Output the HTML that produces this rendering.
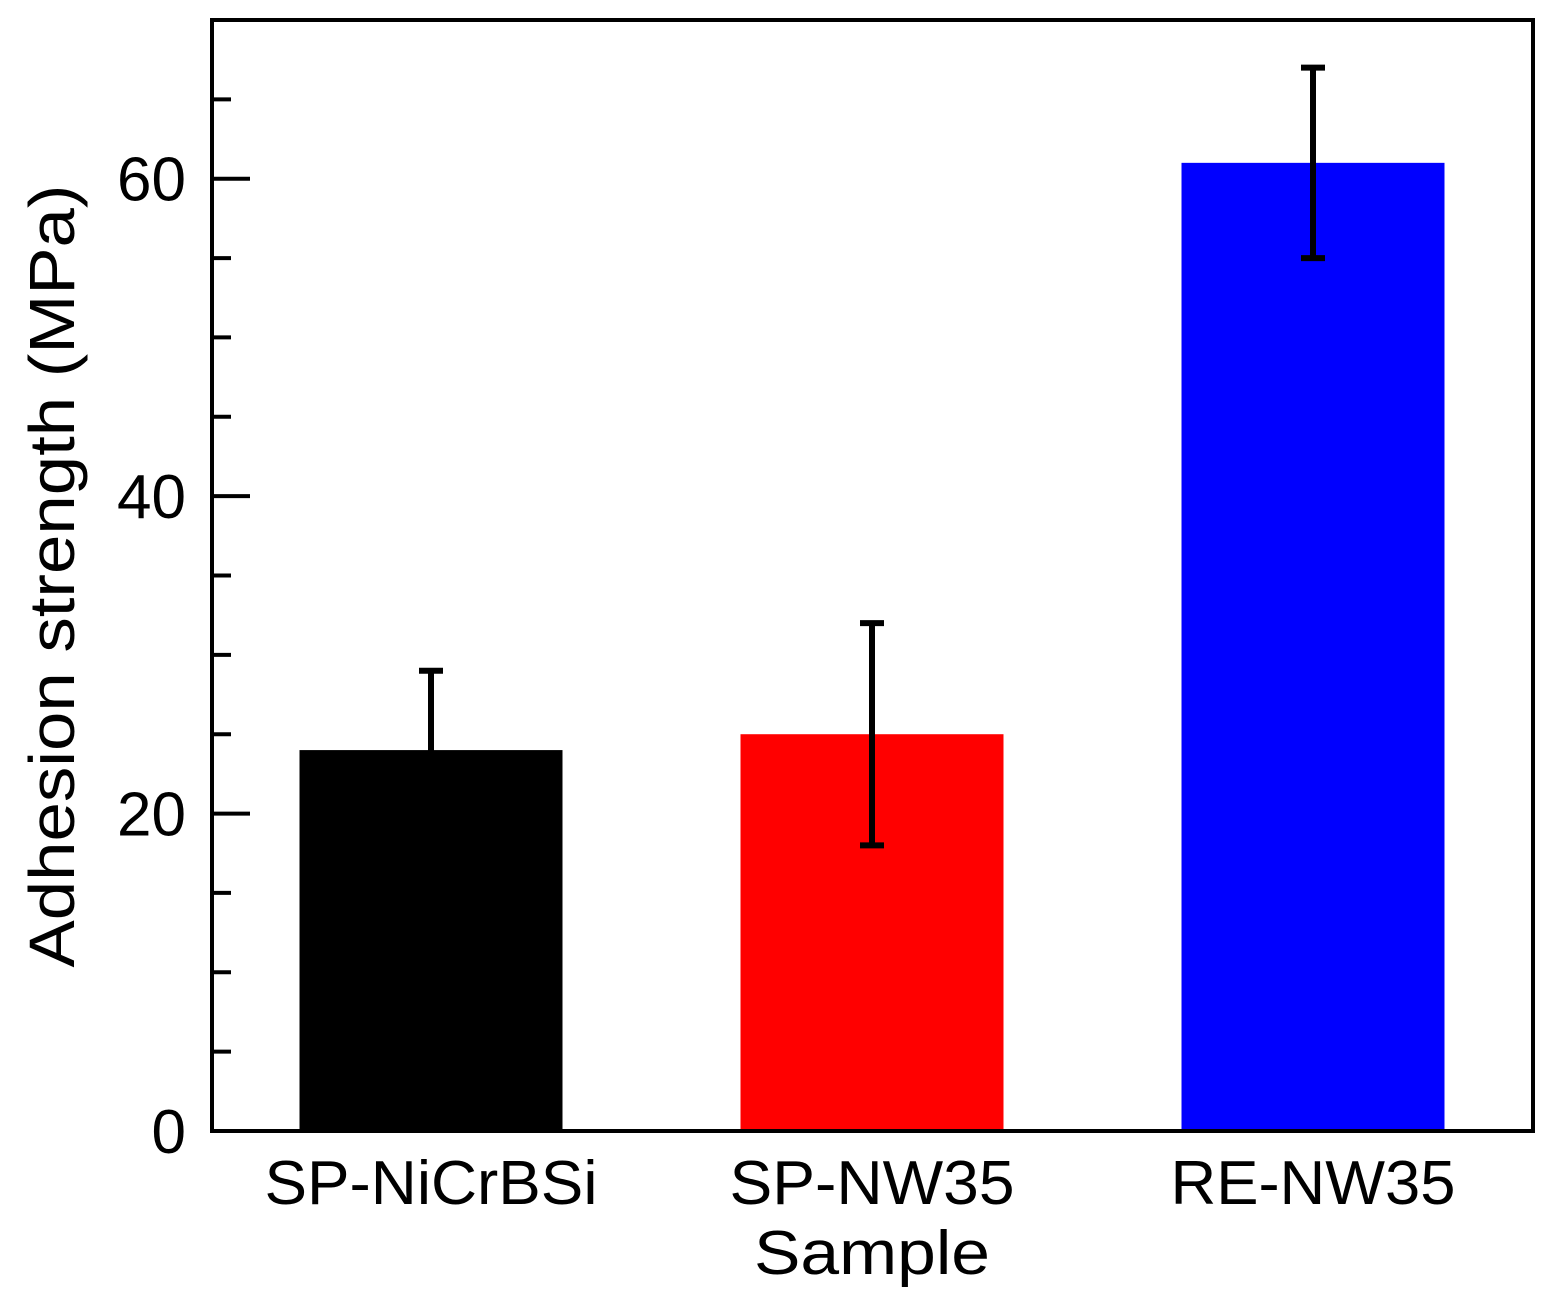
<!DOCTYPE html>
<html><head><meta charset="utf-8"><style>
html,body{margin:0;padding:0;background:#fff;}
svg{display:block;font-family:"Liberation Sans",Arial,sans-serif;}
</style></head><body>
<svg id="chart" width="1551" height="1296" viewBox="0 0 1551 1296">
<rect width="1551" height="1296" fill="#fff"/>
<g id="bars"></g>
<g id="ticks"></g>
<rect x="212" y="20" width="1321" height="1111" fill="none" stroke="#000" stroke-width="4"/>
<text x="872" y="1274" font-size="62" text-anchor="middle" textLength="236" lengthAdjust="spacingAndGlyphs">Sample</text>
<text transform="translate(74,576) rotate(-90)" font-size="64" text-anchor="middle" textLength="783" lengthAdjust="spacingAndGlyphs">Adhesion strength (MPa)</text>
</svg>
<script>
const categories = ["SP-NiCrBSi","SP-NW35","RE-NW35"];
const values = [24, 25, 61];
const errors = [5, 7, 6];
const colors = ["#000000","#ff0000","#0000ff"];
const yTicks = [0, 20, 40, 60];
const yMinor = [5, 10, 15, 25, 30, 35, 45, 50, 55, 65];
const labelWidths = [333, 285, 285];
const NS = "http://www.w3.org/2000/svg";
const x0 = 212, x1 = 1533, yBot = 1131, yTop = 20, yMax = 70;
const y = v => yBot - (yBot - yTop) * v / yMax;
const centers = [431, 872, 1313];
const xc = i => centers[0] + i * (centers[2]-centers[0])/(categories.length-1);
const bw = 263;
const bars = document.getElementById("bars");
const ticks = document.getElementById("ticks");
function mk(tag, attrs, parent){ const e=document.createElementNS(NS,tag); for(const k in attrs) e.setAttribute(k,attrs[k]); parent.appendChild(e); return e; }
categories.forEach((c,i)=>{
  const cx = xc(i);
  const r = mk("rect",{x:cx-bw/2,y:y(values[i]),width:bw,height:yBot-y(values[i]),fill:colors[i]},bars);
  
  
  const g = mk("g",{stroke:"#000","stroke-width":6},bars);
  
  
  mk("line",{x1:cx,x2:cx,y1:y(values[i]+errors[i]),y2:y(values[i]-errors[i])},g);
  mk("line",{x1:cx-12,x2:cx+12,y1:y(values[i]+errors[i]),y2:y(values[i]+errors[i])},g);
  mk("line",{x1:cx-12,x2:cx+12,y1:y(values[i]-errors[i]),y2:y(values[i]-errors[i])},g);
  const t = mk("text",{x:cx,y:1204,"font-size":62,"text-anchor":"middle",textLength:labelWidths[i],lengthAdjust:"spacingAndGlyphs"},ticks);
  t.textContent = c;
  
  
});
yTicks.forEach(v=>{
  const l = mk("line",{x1:x0,x2:x0+38,y1:y(v),y2:y(v),stroke:"#000","stroke-width":4},ticks);
  
  
  const t = mk("text",{x:186,y:y(v)+22,"font-size":62,"text-anchor":"end"},ticks);
  t.textContent = v;
  
  
});
yMinor.forEach(v=>{
  const l = mk("line",{x1:x0,x2:x0+19,y1:y(v),y2:y(v),stroke:"#000","stroke-width":4},ticks);
  
  
});
</script>
</body></html>
